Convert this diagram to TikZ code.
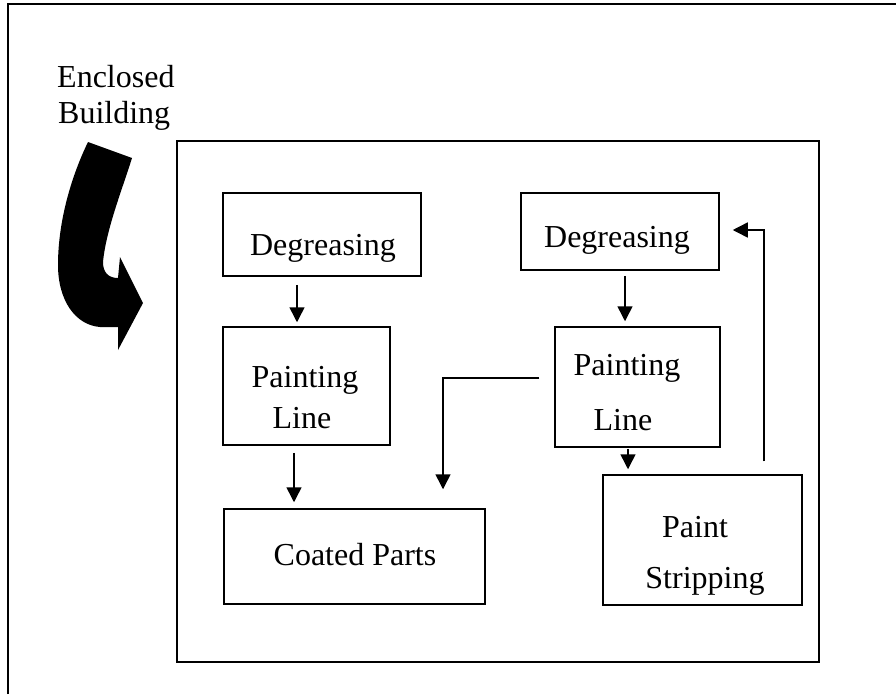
\documentclass[tikz,border=0pt]{standalone}
\usepackage{fontspec}
\setmainfont{Liberation Serif}
\usetikzlibrary{arrows.meta}
\begin{document}
\begin{tikzpicture}[x=1pt,y=-1pt,
  box/.style={draw, line width=1.5pt, inner sep=0pt},
  lbl/.style={font=\fontsize{32}{36}\selectfont, anchor=base, inner sep=0pt},
  flow/.style={line width=1.5pt, -{Triangle[length=15pt,width=15pt]}}
]
\useasboundingbox (0,0) rectangle (896,694);
% outer frame (top and left only)
\draw[line width=2.5pt] (8,694) -- (8,4) -- (896,4);
% enclosed building label
\node[lbl, anchor=base west] (eb1) at (57,87) {Enclosed};
\node[lbl, anchor=base west] (eb2) at (58,123) {Building};
% big curved arrow
\fill (88,142) -- (132,158) .. controls (122,190) and (106,230) .. (103,262)
  .. controls (103,272) and (108,278) .. (118,278) -- (120,257) -- (143,303)
  -- (118,350) -- (118,327) -- (100,327)
  .. controls (75,325) and (58,300) .. (58,265)
  .. controls (58,220) and (72,175) .. (88,142) -- cycle;
% building enclosure
\node[box, minimum width=642pt, minimum height=521pt] (bld) at (498,401.5) {};
% boxes
\node[box, minimum width=198pt, minimum height=83pt] (d1) at (322,234.5) {};
\node[box, minimum width=167pt, minimum height=118pt] (p1) at (306.5,386) {};
\node[box, minimum width=261pt, minimum height=95pt] (c) at (354.5,556.5) {};
\node[box, minimum width=198pt, minimum height=77pt] (d2) at (620,231.5) {};
\node[box, minimum width=165pt, minimum height=120pt] (p2) at (637.5,387) {};
\node[box, minimum width=199pt, minimum height=130pt] (s) at (702.5,540) {};
% texts
\node[lbl] (t1) at (323,255) {Degreasing};
\node[lbl] (t2) at (305,387) {Painting};
\node[lbl] (t3) at (302,428) {Line};
\node[lbl] (t4) at (355,565) {Coated Parts};
\node[lbl] (t5) at (617,247) {Degreasing};
\node[lbl] (t6) at (627,375) {Painting};
\node[lbl] (t7) at (623,430) {Line};
\node[lbl] (t8) at (695,537) {Paint};
\node[lbl] (t9) at (705,588) {Stripping};
% connectors
\draw[flow] ([xshift=-25pt,yshift=-8pt]d1.south) -- ([xshift=-9.5pt,yshift=4pt]p1.north);
\draw[flow] ([xshift=-12.5pt,yshift=-7pt]p1.south) -- ([xshift=-60.5pt,yshift=6pt]c.north);
\draw[flow] ([xshift=5pt,yshift=-5pt]d2.south) -- ([xshift=-12.5pt,yshift=5pt]p2.north);
\draw[flow] ([xshift=-9.5pt,yshift=-1pt]p2.south) -- ([xshift=-74.5pt,yshift=5pt]s.north);
\draw[flow] ([xshift=-15pt,yshift=9pt]p2.west) -| ([xshift=88.5pt,yshift=19pt]c.north);
\draw[flow] ([xshift=61.5pt,yshift=13pt]s.north) |- ([xshift=13pt,yshift=1.5pt]d2.east);
\end{tikzpicture}
\end{document}
